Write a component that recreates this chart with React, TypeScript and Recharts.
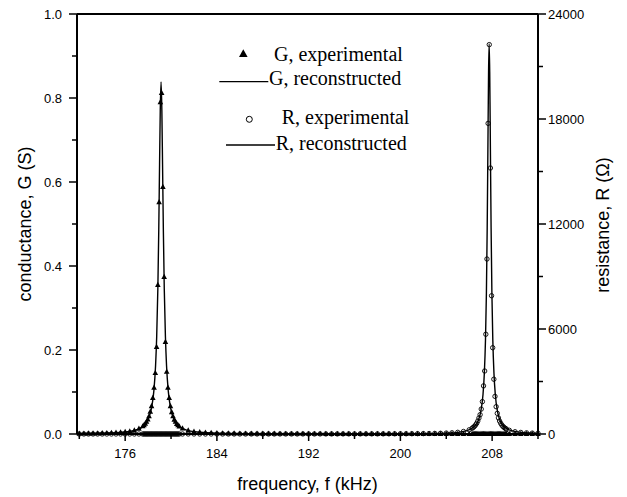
import React from 'react';
import { ComposedChart, Line, Scatter, XAxis, YAxis, ReferenceLine } from 'recharts';

// experimental sweep frequencies (kHz)
const freqExp = [
  172.0, 172.4, 172.8, 173.2, 173.6, 174.0, 174.4, 174.8, 175.2, 175.6, 176.0, 176.4, 176.8, 177.2,
  177.53, 177.64, 177.75, 177.86, 177.97, 178.08, 178.19, 178.30, 178.41, 178.52, 178.63, 178.74, 178.85, 178.96, 179.07,
  179.18, 179.29, 179.40, 179.51, 179.62, 179.73, 179.84, 179.95, 180.06, 180.17, 180.28, 180.39, 180.50, 180.61, 180.72,
  181.0, 181.5, 182.0, 182.5, 183.0, 183.5, 184.0, 184.5, 185.0, 185.5, 186.0, 186.5, 187.0, 187.5, 188.0, 188.5, 189.0,
  189.5, 190.0, 190.5, 191.0, 191.5, 192.0, 192.5, 193.0, 193.5, 194.0, 194.5, 195.0, 195.5, 196.0, 196.5, 197.0, 197.5,
  198.0, 198.5, 199.0, 199.5, 200.0, 200.5, 201.0, 201.5, 202.0, 202.5, 203.0, 203.5, 204.0, 204.5, 205.0, 205.5, 206.0,
  206.25, 206.35, 206.45, 206.55, 206.65, 206.75, 206.85, 206.95, 207.05, 207.15, 207.25, 207.35, 207.45, 207.55, 207.65,
  207.75, 207.85, 207.95, 208.05, 208.15, 208.25, 208.35, 208.45, 208.55, 208.65, 208.75, 208.85, 208.95, 209.05, 209.15,
  209.25, 209.5, 210.0, 210.5, 211.0, 211.5, 212.0,
];

// G, experimental (S)
const gExp = [
  0.0009, 0.0010, 0.0012, 0.0013, 0.0015, 0.0018, 0.0021, 0.0025, 0.0030, 0.0037, 0.0047, 0.0062, 0.0086, 0.0125,
  0.0182, 0.0210, 0.0245, 0.0289, 0.0347, 0.0424, 0.053, 0.066, 0.086, 0.110, 0.145, 0.207, 0.355, 0.552, 0.790,
  0.812, 0.588, 0.374, 0.219, 0.148, 0.110, 0.086, 0.066, 0.052, 0.042, 0.034, 0.029, 0.024, 0.021, 0.018,
  0.0132, 0.0082, 0.0056, 0.0041, 0.0031, 0.0024, 0.0019, 0.0016, 0.0013, 0.0011, 0.0010, 0.0009, 0.0008, 0.0007, 0.0006, 0.0005, 0.0005,
  0.0004, 0.0004, 0.0004, 0.0003, 0.0003, 0.0003, 0.0003, 0.0003, 0.0002, 0.0002, 0.0002, 0.0002, 0.0002, 0.0002, 0.0002, 0.0002, 0.0002,
  0.0002, 0.0002, 0.0002, 0.0001, 0.0001, 0.0001, 0.0001, 0.0001, 0.0001, 0.0001, 0.0001, 0.0001, 0.0001, 0.0001, 0.0001, 0.0001, 0.0001,
  0.0001, 0.0001, 0.0001, 0.0001, 0.0001, 0.0001, 0.0001, 0.0001, 0.0001, 0.0001, 0.0001, 0.0001, 0.0001, 0.0001, 0.0001,
  0.0001, 0.0001, 0.0001, 0.0001, 0.0001, 0.0001, 0.0001, 0.0001, 0.0001, 0.0001, 0.0001, 0.0001, 0.0001, 0.0001, 0.0001,
  0.0001, 0.0001, 0.0001, 0.0001, 0.0001, 0.0001, 0.0001,
];

// R, experimental (Ohm)
const rExp = [
  1, 1, 1, 1, 1, 1, 1, 1, 1, 1, 1, 1, 1, 1,
  1, 1, 1, 1, 1, 1, 1, 1, 1, 1, 1, 1, 1, 1, 1,
  1, 1, 1, 1, 1, 1, 1, 1, 1, 1, 1, 1, 1, 1, 1,
  1, 1, 1, 1, 1, 1, 1, 1, 1, 1, 1, 1, 2, 2, 2, 2, 2,
  2, 2, 3, 3, 3, 3, 3, 4, 4, 4, 5, 5, 6, 5, 6, 6, 7,
  8, 8, 9, 11, 12, 14, 16, 19, 22, 26, 32, 40, 52, 69, 96, 144, 239,
  326, 375, 435, 511, 609, 739, 914, 1103, 1424, 1850, 2750, 3600, 5700, 10000, 17750,
  22250, 15200, 7900, 4930, 3130, 2150, 1560, 1180, 920, 740, 610, 510, 430, 370, 320,
  280, 210, 130, 90, 65, 50, 40,
];

// G, reconstructed
const freqGLine = [172, 174, 176, 177, 177.5, 178, 178.3, 178.5, 178.65, 178.75, 178.85, 178.93, 179.0, 179.06, 179.13,
  179.2, 179.26, 179.33, 179.41, 179.51, 179.61, 179.76, 179.96, 180.3, 180.8, 181.5, 182.5, 184, 188, 195, 205, 212];
const gLine = [0.0009, 0.0018, 0.0047, 0.0101, 0.017, 0.0348, 0.062, 0.102, 0.162, 0.232, 0.346, 0.486, 0.642, 0.770, 0.838,
  0.770, 0.642, 0.486, 0.346, 0.232, 0.162, 0.102, 0.062, 0.0325, 0.0163, 0.0082, 0.0041, 0.0019, 0.0006, 0.0002, 0.0001, 0.0001];

// R, reconstructed
const freqRLine = [172, 180, 190, 198, 202, 204, 205, 205.8, 206.4, 206.8, 207.0, 207.2, 207.32, 207.42, 207.5, 207.57, 207.63,
  207.69, 207.74, 207.79, 207.85, 207.91, 207.98, 208.06, 208.16, 208.28, 208.48, 208.68, 209.08, 209.68, 210.5, 211.3, 212];
const rLine = [1, 1, 2, 8, 22, 52, 96, 192, 395, 788, 1246, 2230, 3463, 5360, 8027, 11786, 16240,
  20700, 22300, 20700, 16240, 11786, 8027, 5360, 3463, 2230, 1246, 788, 395, 192, 95, 57, 40];

const xTicks = [172, 176, 180, 184, 188, 192, 196, 200, 204, 208, 212];
const xLabels = [176, 184, 192, 200, 208];
const gTicks = [0, 0.1, 0.2, 0.3, 0.4, 0.5, 0.6, 0.7, 0.8, 0.9, 1.0];
const gLabels = [0, 0.2, 0.4, 0.6, 0.8, 1.0];
const rTicks = [0, 3000, 6000, 9000, 12000, 15000, 18000, 21000, 24000];
const rLabels = [0, 6000, 12000, 18000, 24000];

const expData = freqExp.map((f, i) => ({ f, g: gExp[i], r: rExp[i] }));
const gLineData = freqGLine.map((f, i) => ({ f, g: gLine[i] }));
const rLineData = freqRLine.map((f, i) => ({ f, r: rLine[i] }));

const SANS = 'Liberation Sans, Arial, Helvetica, sans-serif';
const SERIF = 'Liberation Serif, Times New Roman, serif';

const isIn = (arr: number[], v: number) => arr.some((a) => Math.abs(a - v) < 1e-9);

const XTick = (props: any) => {
  const { x, y, payload } = props;
  const v = payload.value;
  const major = isIn(xLabels, v);
  return (
    <g>
      <line x1={x} x2={x} y1={y} y2={y + (major ? 7 : 5)} stroke="#000" strokeWidth={1.5} />
      {major && (
        <text x={x} y={y + 19} dy="0.35em" textAnchor="middle" fontSize={13} fontFamily={SANS} fill="#000">
          {v}
        </text>
      )}
    </g>
  );
};

const GTick = (props: any) => {
  const { x, y, payload } = props;
  const v = payload.value;
  const major = isIn(gLabels, v);
  return (
    <g>
      <line x1={x} x2={x - (major ? 8 : 5)} y1={y} y2={y} stroke="#000" strokeWidth={1.5} />
      {major && (
        <text x={x - 15} y={y} dy="0.35em" textAnchor="end" fontSize={13} fontFamily={SANS} fill="#000">
          {v.toFixed(1)}
        </text>
      )}
    </g>
  );
};

const RTick = (props: any) => {
  const { x, y, payload } = props;
  const v = payload.value;
  const major = isIn(rLabels, v);
  return (
    <g>
      <line x1={x} x2={x + (major ? 8 : 5)} y1={y} y2={y} stroke="#000" strokeWidth={1.5} />
      {major && (
        <text x={x + 10} y={y} dy="0.35em" textAnchor="start" fontSize={13} fontFamily={SANS} fill="#000">
          {v}
        </text>
      )}
    </g>
  );
};

const Triangle = (props: any) => {
  const { cx, cy } = props;
  if (cx == null || cy == null) return <g />;
  return <polygon points={`${cx},${cy - 3.2} ${cx - 2.8},${cy + 2} ${cx + 2.8},${cy + 2}`} fill="#000" />;
};

const Circle = (props: any) => {
  const { cx, cy } = props;
  if (cx == null || cy == null) return <g />;
  return <circle cx={cx} cy={cy} r={2.2} fill="none" stroke="#000" strokeWidth={0.9} />;
};

export default function App() {
  return (
    <div style={{ position: 'relative', width: 611, height: 489 }}>
      <ComposedChart width={611} height={489} margin={{ top: 6, right: 21, bottom: 23, left: 9 }}>
        <XAxis
          dataKey="f"
          type="number"
          domain={[171.8, 212]}
          ticks={xTicks}
          interval={0}
          height={40}
          tickSize={0}
          tickMargin={0}
          tickLine={false}
          tick={XTick}
          axisLine={{ stroke: '#000', strokeWidth: 2 }}
        />
        <YAxis
          yAxisId="G"
          orientation="left"
          type="number"
          domain={[0, 1]}
          ticks={gTicks}
          interval={0}
          width={60}
          tickSize={0}
          tickMargin={0}
          tickLine={false}
          tick={GTick}
          axisLine={{ stroke: '#000', strokeWidth: 2 }}
        />
        <YAxis
          yAxisId="R"
          orientation="right"
          type="number"
          domain={[0, 24000]}
          ticks={rTicks}
          interval={0}
          width={60}
          tickSize={0}
          tickMargin={0}
          tickLine={false}
          tick={RTick}
          axisLine={{ stroke: '#000', strokeWidth: 2 }}
        />
        <ReferenceLine yAxisId="G" y={1} stroke="#000" strokeWidth={2} />
        <Line
          yAxisId="G"
          data={gLineData}
          dataKey="g"
          type="monotone"
          stroke="#000"
          strokeWidth={1.4}
          dot={false}
          activeDot={false}
          isAnimationActive={false}
        />
        <Scatter yAxisId="G" data={expData} dataKey="g" shape={Triangle} isAnimationActive={false} />
        <Line
          yAxisId="R"
          data={rLineData}
          dataKey="r"
          type="monotone"
          stroke="#000"
          strokeWidth={1.4}
          dot={false}
          activeDot={false}
          isAnimationActive={false}
        />
        <Scatter yAxisId="R" data={expData} dataKey="r" shape={Circle} isAnimationActive={false} />
      </ComposedChart>
      <svg
        width={611}
        height={489}
        style={{ position: 'absolute', left: 0, top: 0, pointerEvents: 'none' }}
      >
        <text x={299.5} y={476} dominantBaseline="central" textAnchor="middle" fontSize={18} fontFamily={SANS} fill="#000">
          frequency, f (kHz)
        </text>
        <text
          transform="translate(17,216) rotate(-90)"
          dominantBaseline="central"
          textAnchor="middle"
          fontSize={18}
          fontFamily={SANS}
          fill="#000"
        >
          conductance, G (S)
        </text>
        <text
          transform="translate(595,217) rotate(-90)"
          dominantBaseline="central"
          textAnchor="middle"
          fontSize={18}
          fontFamily={SANS}
          fill="#000"
        >
          resistance, R (Ω)
        </text>
        <polygon points="235.3,41.3 231,49 239.6,49" fill="#000" />
        <text x={266} y={52.7} fontSize={20} fontFamily={SERIF} fill="#000">G, experimental</text>
        <line x1={211.3} x2={260.3} y1={73.7} y2={73.7} stroke="#000" strokeWidth={1.3} />
        <text x={261} y={76.5} fontSize={20} fontFamily={SERIF} fill="#000">G, reconstructed</text>
        <circle cx={241.3} cy={111.3} r={3} fill="none" stroke="#000" strokeWidth={1} />
        <text x={273.7} y={116} fontSize={20} fontFamily={SERIF} fill="#000">R, experimental</text>
        <line x1={218} x2={267} y1={137} y2={137} stroke="#000" strokeWidth={1.3} />
        <text x={267.7} y={142} fontSize={20} fontFamily={SERIF} fill="#000">R, reconstructed</text>
      </svg>
    </div>
  );
}
